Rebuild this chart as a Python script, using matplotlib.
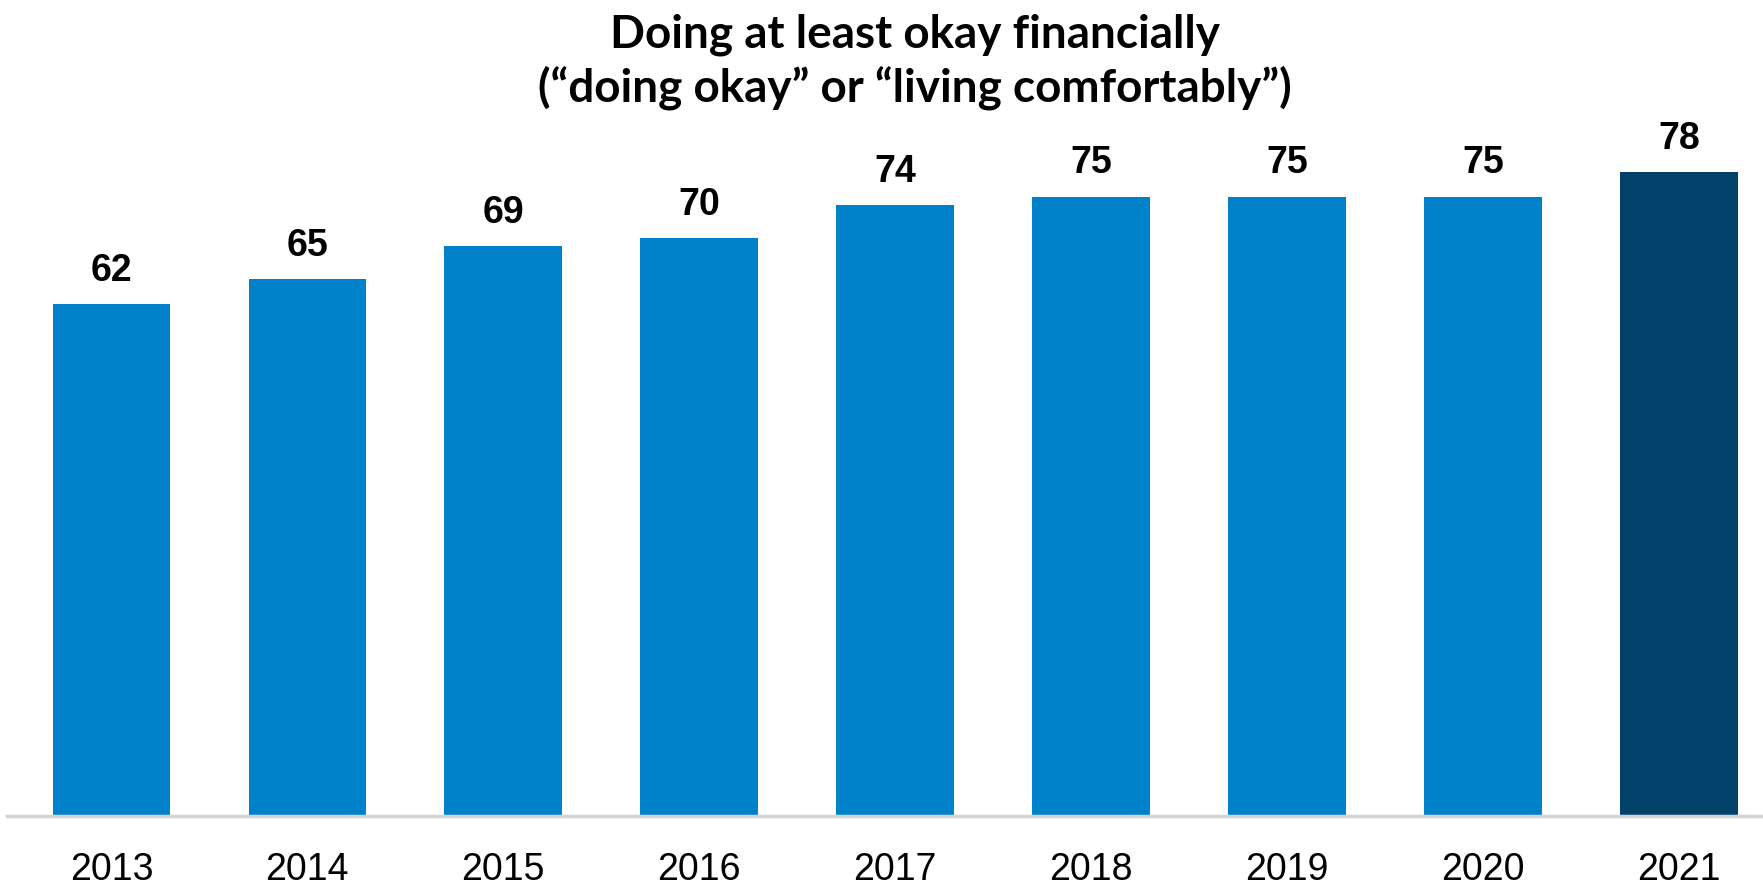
import matplotlib.pyplot as plt

years = ['2013', '2014', '2015', '2016', '2017', '2018', '2019', '2020', '2021']
values = [62, 65, 69, 70, 74, 75, 75, 75, 78]

bar_color = '#0082CA'
last_color = '#02416A'
colors = [bar_color] * (len(values) - 1) + [last_color]

narrow = ['Liberation Sans Narrow', 'Liberation Sans', 'DejaVu Sans']

fig = plt.figure(figsize=(17.63, 8.89), dpi=100)
ax = fig.add_axes([7 / 1763, 0.0821, 1 - 7 / 1763, 0.836])

x = range(len(years))
bars = ax.bar(x, values, width=0.6, color=colors)

for b, v in zip(bars, values):
    ax.annotate(str(v), (b.get_x() + b.get_width() / 2, v),
                xytext=(0, 11), textcoords='offset points',
                ha='center', va='bottom', fontsize=27, fontweight='bold',
                family=narrow)

ax.set_xlim(-0.533, 8.43)
ax.set_ylim(0, 90)
ax.set_xticks(list(x))
ax.set_xticklabels(years, fontsize=27, family=narrow)
ax.tick_params(axis='x', length=0, pad=26)
ax.set_yticks([])

for s in ['top', 'right', 'left']:
    ax.spines[s].set_visible(False)
ax.spines['bottom'].set_color('#d4d4d4')
ax.spines['bottom'].set_linewidth(2.5)

title_font = ['Lato', 'DejaVu Sans']
fig.text(0.519, 0.947, 'Doing at least okay financially',
         ha='center', va='baseline', fontsize=33, fontweight='bold',
         family=title_font)
fig.text(0.519, 0.886, '(\u201cdoing okay\u201d or \u201cliving comfortably\u201d)',
         ha='center', va='baseline', fontsize=33, fontweight='bold',
         family=title_font)

fig.savefig('out.png', dpi=100)
